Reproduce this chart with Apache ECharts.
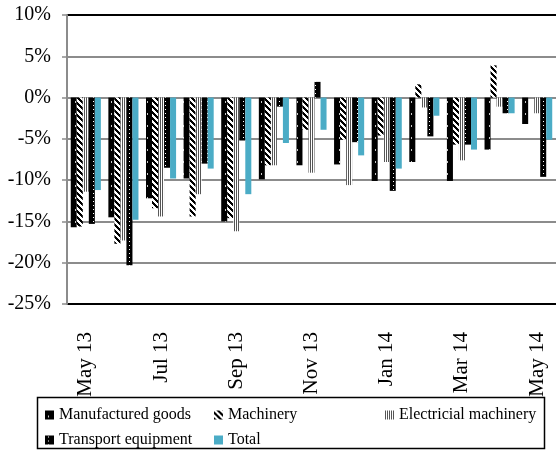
<!DOCTYPE html>
<html>
<head>
<meta charset="utf-8">
<script src="https://cdn.jsdelivr.net/npm/echarts@6/dist/echarts.min.js"></script>
<style>
  html, body { margin: 0; padding: 0; background: #fff; }
  #chart { width: 556px; height: 451px; }
</style>
</head>
<body>
<div id="chart"></div>
<script>
// Monthly year-on-year change, %
const months = ['May 13', 'Jun 13', 'Jul 13', 'Aug 13', 'Sep 13', 'Oct 13', 'Nov 13',
                'Dec 13', 'Jan 14', 'Feb 14', 'Mar 14', 'Apr 14', 'May 14'];
const manufacturedGoods    = [-15.7, -14.5, -12.2, -9.8, -15.0, -9.9, -8.2, -8.1, -10.1, -7.8, -10.1, -6.3, -3.2];
const machinery            = [-15.6, -17.7, -13.4, -14.4, -14.6, -8.2, -3.9, -5.1, -4.6, 1.6, -5.7, 3.9, 0];
const electricalMachinery  = [-11.4, -17.3, -14.4, -11.7, -16.2, -8.2, -9.1, -10.6, -7.8, -1.2, -7.6, -1.1, -1.9];
const transportEquipment   = [-15.3, -20.3, -8.5, -8.0, -5.2, -1.1, 1.9, -5.4, -11.3, -4.7, -5.7, -1.9, -9.6];
const total                = [-11.2, -14.8, -9.8, -8.6, -11.7, -5.5, -3.9, -7.0, -8.6, -2.2, -6.3, -1.9, -5.1];
const seriesNames = ['Manufactured goods', 'Machinery', 'Electricial machinery', 'Transport equipment', 'Total'];
const yTicks = { min: -25, max: 10, step: 5 };

// Small tiled fills for the monochrome series
function pattern(w, h, draw) {
  const c = document.createElement('canvas');
  c.width = w; c.height = h;
  const ctx = c.getContext('2d');
  draw(ctx, w, h);
  return { image: c, repeat: 'repeat' };
}
const fillGoods = pattern(6, 12, (ctx, w, h) => {
  ctx.fillStyle = '#000'; ctx.fillRect(0, 0, w, h);
  ctx.fillStyle = '#c8c8c8'; ctx.fillRect(3, 5, 1, 2);
});
const fillMachinery = pattern(6, 6, (ctx, w, h) => {
  ctx.fillStyle = '#000'; ctx.fillRect(0, 0, w, h);
  ctx.fillStyle = '#fff';
  for (let y = 0; y < h; y++) for (let x = 0; x < w; x++) {
    if (((x - y) % 6 + 6) % 6 < 3) ctx.fillRect(x, y, 1, 1);
  }
});
const fillElectrical = pattern(2, 1, (ctx) => {
  ctx.fillStyle = '#555'; ctx.fillRect(0, 0, 1, 1);
  ctx.fillStyle = '#fff'; ctx.fillRect(1, 0, 1, 1);
});
const fillTransport = pattern(6, 4, (ctx, w, h) => {
  ctx.fillStyle = '#000'; ctx.fillRect(0, 0, w, h);
  ctx.fillStyle = '#fff'; ctx.fillRect(3, 1, 1, 1);
});
const fills = [fillGoods, fillMachinery, fillElectrical, fillTransport, '#4bacc6'];
const values = [manufacturedGoods, machinery, electricalMachinery, transportEquipment, total];

const grey = '#8c8c8c';
const serif = 'Liberation Serif';
const legendSpots = [[45, 407], [214, 407], [385, 407], [45, 432], [214, 432]];

const chart = echarts.init(document.getElementById('chart'), null, { renderer: 'canvas' });
chart.setOption({
  animation: false,
  backgroundColor: '#fff',
  grid: { left: 67, right: -1, top: 15, bottom: 147 },
  xAxis: [
    {
      type: 'category', data: months, position: 'top',
      axisLine: { onZero: true, lineStyle: { color: grey, width: 2 } },
      axisTick: { inside: true, length: 4, lineStyle: { color: grey, width: 1.5 } },
      axisLabel: { show: false },
      splitLine: { show: false }
    },
    {
      type: 'category', data: months, position: 'bottom',
      axisLine: { show: false, onZero: false },
      axisTick: { show: false },
      axisLabel: {
        interval: 1, rotate: 90, margin: 28, padding: [9, 0, 0, 0],
        fontFamily: serif, fontSize: 21, color: '#000'
      }
    }
  ],
  yAxis: {
    type: 'value', min: yTicks.min, max: yTicks.max, interval: yTicks.step,
    axisLine: { show: true, lineStyle: { color: grey, width: 2 } },
    axisTick: { show: true, length: 5, lineStyle: { color: grey, width: 1.5 } },
    splitLine: {
      lineStyle: { color: ['#000', grey, grey, grey, grey, grey, grey, '#000'], width: 2 }
    },
    axisLabel: {
      formatter: '{value}%', margin: 16,
      fontFamily: serif, fontSize: 20, color: '#000'
    }
  },
  legend: seriesNames.map((name, i) => ({
    data: [name],
    left: legendSpots[i][0], top: legendSpots[i][1],
    icon: 'rect', itemWidth: 9, itemHeight: 9, padding: 0,
    selectedMode: false,
    textStyle: { fontFamily: serif, fontSize: 16, color: '#000' }
  })),
  graphic: [{
    type: 'rect',
    shape: { x: 37.5, y: 397.5, width: 507, height: 51 },
    style: { fill: 'none', stroke: '#000', lineWidth: 1.5 }
  }],
  series: seriesNames.map((name, i) => ({
    name, type: 'bar', xAxisIndex: 0,
    data: values[i],
    barGap: '0%', barCategoryGap: '20%',
    itemStyle: { color: fills[i] }
  }))
});
</script>
</body>
</html>
